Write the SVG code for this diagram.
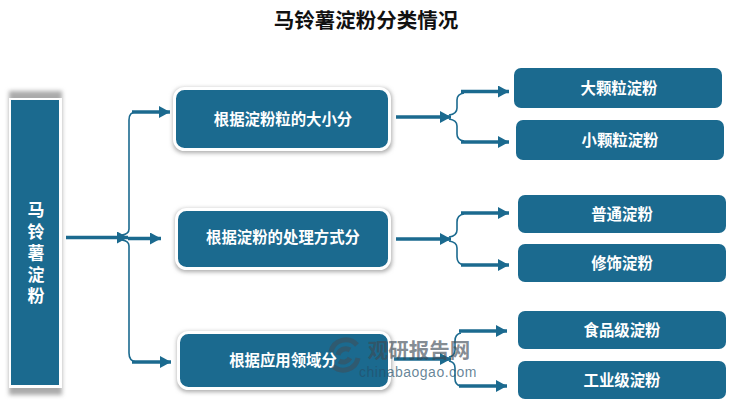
<svg xmlns="http://www.w3.org/2000/svg" width="750" height="413" viewBox="0 0 750 413">
<defs>
<filter id="sh" x="-20%" y="-20%" width="140%" height="140%"><feGaussianBlur stdDeviation="2"/></filter>
<marker id="ah" markerUnits="userSpaceOnUse" markerWidth="12" markerHeight="12" refX="11" refY="6" orient="auto"><path d="M0 0L11 6L0 12Z" fill="#1b6a8f"/></marker>
</defs>
<style>
text{font-family:"Noto Sans CJK SC","Liberation Serif",sans-serif;font-weight:700;text-anchor:middle}
.lb{fill:#fff;font-size:15.400px}
.rt{fill:#fff;font-size:17px;writing-mode:vertical-rl;letter-spacing:4.600px}
.box{fill:#1b6a8f}
.mid{fill:#1b6a8f;stroke:#fff;stroke-width:3}
.thin{fill:none;stroke:#1b6a8f;stroke-width:1.6}
.thick{fill:none;stroke:#1b6a8f;stroke-width:3.5;marker-end:url(#ah)}
.s{fill:#aaa;filter:url(#sh)}
</style>
<rect width="750" height="413" fill="#fff"/>
<text x="366" y="28" font-size="20.500" fill="#111">马铃薯淀粉分类情况</text>
<g id="root">
<rect class="s" x="9" y="91" width="53" height="304"/>
<rect x="9" y="98" width="53" height="290" fill="#fff"/>
<rect class="box" x="11" y="100" width="48" height="285"/>
<text class="rt" x="36" y="255">马铃薯淀粉</text>
</g>
<g id="connectors">
<path class="thick" d="M66 237.500H128"/>
<path class="thin" d="M122 235Q129 234 129 229V120Q129 112 136 112"/>
<path class="thin" d="M122 240Q129 241 129 246V353Q129 361 136 362"/>
<path class="thick" d="M132 112H170"/>
<path class="thick" d="M128 238.500H161"/>
<path class="thick" d="M132 362H171"/>
<path class="thick" d="M396 117H451"/>
<path class="thin" d="M449 115Q457 114 457 108V100Q457 94 464 93"/>
<path class="thin" d="M449 119Q457 120 457 126V134Q457 140 464 141"/>
<path class="thick" d="M461 91.500H509"/>
<path class="thick" d="M461 142H509"/>
<path class="thick" d="M396 239H451"/>
<path class="thin" d="M449 237Q457 236 457 230V222Q457 215 464 214"/>
<path class="thin" d="M449 241Q457 242 457 248V257Q457 264 464 265"/>
<path class="thick" d="M461 213H509"/>
<path class="thick" d="M461 265H509"/>
<path class="thick" d="M394 359H451"/>
<path class="thin" d="M449 357Q455 356 455 350V341Q455 334 461 333"/>
<path class="thin" d="M449 361Q455 362 455 368V379Q455 385 461 386"/>
<path class="thick" d="M459 331H507"/>
<path class="thick" d="M459 386H507"/>
</g>
<g id="n1">
<rect class="s" x="173" y="88" width="219" height="65" rx="10"/>
<rect class="mid" x="174.500" y="88.500" width="215" height="61" rx="10"/>
<text class="lb" x="283" y="125">根据淀粉粒的大小分</text>
</g>
<g id="n2">
<rect class="s" x="175" y="209" width="217" height="63" rx="10"/>
<rect class="mid" x="176.500" y="209.500" width="213" height="59" rx="10"/>
<text class="lb" x="283" y="243">根据淀粉的处理方式分</text>
</g>
<g id="n3">
<rect class="s" x="177" y="332" width="215" height="60" rx="10"/>
<rect class="mid" x="178.500" y="332.500" width="211" height="56" rx="10"/>
<text class="lb" x="283" y="366">根据应用领域分</text>
</g>
<g id="l1"><rect class="box" x="514" y="68" width="208" height="40" rx="7"/><text class="lb" x="619" y="94">大颗粒淀粉</text></g>
<g id="l2"><rect class="box" x="516" y="120" width="208" height="40" rx="7"/><text class="lb" x="620" y="146">小颗粒淀粉</text></g>
<g id="l3"><rect class="box" x="518" y="195" width="208" height="38" rx="7"/><text class="lb" x="622" y="220">普通淀粉</text></g>
<g id="l4"><rect class="box" x="518" y="244" width="208" height="38" rx="7"/><text class="lb" x="622" y="269">修饰淀粉</text></g>
<g id="l5"><rect class="box" x="518" y="311" width="208" height="38" rx="7"/><text class="lb" x="622" y="336">食品级淀粉</text></g>
<g id="l6"><rect class="box" x="518" y="361" width="208" height="38" rx="7"/><text class="lb" x="622" y="386">工业级淀粉</text></g>
<g id="watermark">
<path d="M331 352A15 15 0 0 1 357 345M358 358A15 15 0 0 1 333 366M338 355A8 8 0 0 1 350 350M350 358A8 8 0 0 1 339 361" fill="none" stroke="#3f4d58" stroke-opacity="0.55" stroke-width="5"/>
<text x="419" y="358" font-size="20.500" fill="#3d4a55" fill-opacity="0.65">观研报告网</text>
<text x="418" y="377" font-size="14" fill="#24506b" fill-opacity="0.7" style="font-family:'Liberation Sans',sans-serif;font-weight:400;letter-spacing:0.5px">chinabaogao.com</text>
</g>
</svg>
